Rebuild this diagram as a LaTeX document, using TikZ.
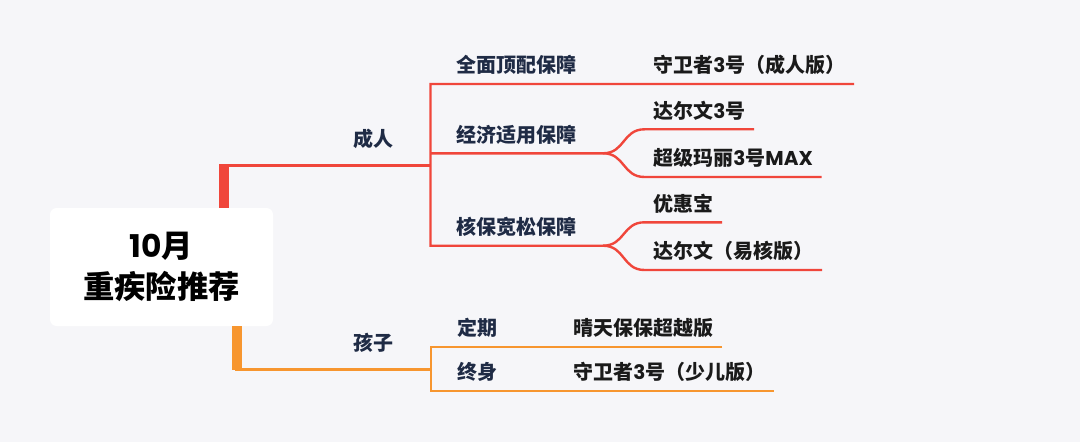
\documentclass[tikz,border=0pt]{standalone}
\usepackage{fontspec}
\setmainfont{Noto Sans CJK SC}
\newfontfamily\latfont{Poppins}
\definecolor{mapred}{HTML}{F0463B}
\definecolor{maporange}{HTML}{F7962F}
\definecolor{darknavy}{HTML}{1F2B45}
\definecolor{leafblack}{HTML}{1A1A1A}
\definecolor{bggrey}{HTML}{F6F6F9}
\newcommand{\mapfont}{\fontsize{15pt}{18pt}\selectfont\bfseries}

\begin{document}
\begin{tikzpicture}[x=0.75pt,y=-0.75pt]
    % Stili dei nodi e delle linee
    \tikzset{
        root_box/.style={
            fill=white, % Sfondo bianco
            rounded corners=5pt,
            minimum width=167.25pt, % Larghezza del riquadro
            minimum height=88.5pt, % Altezza del riquadro
            align=center, % Testo centrato
            text=black,
            font=\fontsize{23.5pt}{31.2pt}\selectfont\bfseries,
            inner sep=0pt
        },
        branch_name/.style={
            anchor=south east, % Il testo sta sopra la linea
            text=darknavy,
            font=\mapfont,
            inner xsep=27.75pt,
            inner ysep=13.8pt,
            text depth=0pt
        },
        topic_name/.style={
            anchor=south west,
            text=darknavy,
            font=\mapfont,
            inner xsep=19.5pt,
            inner ysep=8.1pt,
            text depth=0pt
        },
        leaf_name/.style={
            anchor=south west,
            text=leafblack,
            font=\mapfont,
            inner xsep=6.4pt,
            inner ysep=8.1pt,
            text depth=0pt
        },
        main_line/.style={line width=2.25pt},
        thick_line/.style={line width=7.5pt},
        under_line/.style={line width=1.8pt}
    }

    % Sfondo
    \fill[bggrey] (0,0) rectangle (1080,442);

    % Nodo centrale
    \node[root_box] (root) at (161.5,267) {{\latfont 10}月\\重疾险推荐};

    % Rami principali
    \node[branch_name] (branch_adult) at (430.5,165.5) {成人};
    \node[branch_name] (branch_child) at (431,369) {孩子};

    % Temi degli adulti
    \node[topic_name] (topic_full) at (430.5,84) {全面顶配保障};
    \node[topic_name] (topic_econ) at (430.5,153.3) {经济适用保障};
    \node[topic_name] (topic_loose) at (430.5,245.7) {核保宽松保障};

    % Prodotti degli adulti
    \node[leaf_name] (leaf_sw_adult) at (644.5,84) {守卫者{\latfont 3}号（成人版）};
    \node[leaf_name] (leaf_dw3) at (644.5,129.3) {达尔文{\latfont 3}号};
    \node[leaf_name] (leaf_smx) at (644.5,177) {超级玛丽{\latfont 3}号{\latfont MAX}};
    \node[leaf_name] (leaf_yhb) at (644.5,222.3) {优惠宝};
    \node[leaf_name] (leaf_dw_easy) at (644.5,270) {达尔文（易核版）};

    % Temi e prodotti dei bambini
    \node[topic_name] (topic_term) at (431,346.7) {定期};
    \node[topic_name] (topic_life) at (431,390.7) {终身};
    \node[leaf_name] (leaf_qt) at (564.5,346.7) {晴天保保超越版};
    \node[leaf_name] (leaf_sw_child) at (564.5,390.7) {守卫者{\latfont 3}号（少儿版）};

    % Punti di attacco sul nodo centrale
    \coordinate (adult_in) at ([xshift=-37.1pt]root.north east);
    \coordinate (child_in) at ([xshift=-27.4pt]root.south east);
    \coordinate (adult_corner) at (adult_in |- branch_adult.south east);
    \coordinate (child_corner) at (child_in |- branch_child.south east);

    % Ramo rosso
    \draw[mapred, main_line] (adult_in) |- (branch_adult.south east);
    \draw[mapred, thick_line] (adult_in) -- ([yshift=1.1pt]adult_corner);
    \draw[mapred, under_line] (leaf_sw_adult.south east) -- (topic_full.south west)
        -- (topic_loose.south west) -- (topic_loose.south east)
        .. controls +(22,0) and +(-22,0) .. (leaf_dw_easy.south west) -- (leaf_dw_easy.south east);
    \draw[mapred, under_line] (topic_loose.south east)
        .. controls +(22,0) and +(-22,0) .. (leaf_yhb.south west) -- (leaf_yhb.south east);
    \draw[mapred, under_line] (topic_econ.south west) -- (topic_econ.south east)
        .. controls +(22,0) and +(-22,0) .. (leaf_dw3.south west) -- (leaf_dw3.south east);
    \draw[mapred, under_line] (topic_econ.south east)
        .. controls +(22,0) and +(-22,0) .. (leaf_smx.south west) -- (leaf_smx.south east);

    % Ramo arancione
    \draw[maporange, main_line] (child_in) |- (branch_child.south east);
    \draw[maporange, thick_line] (child_in) -- ([yshift=-1.1pt]child_corner);
    \draw[maporange, under_line] (leaf_qt.south east) -- (topic_term.south west)
        -- (topic_life.south west) -- (leaf_sw_child.south east);

\end{tikzpicture}
\end{document}
